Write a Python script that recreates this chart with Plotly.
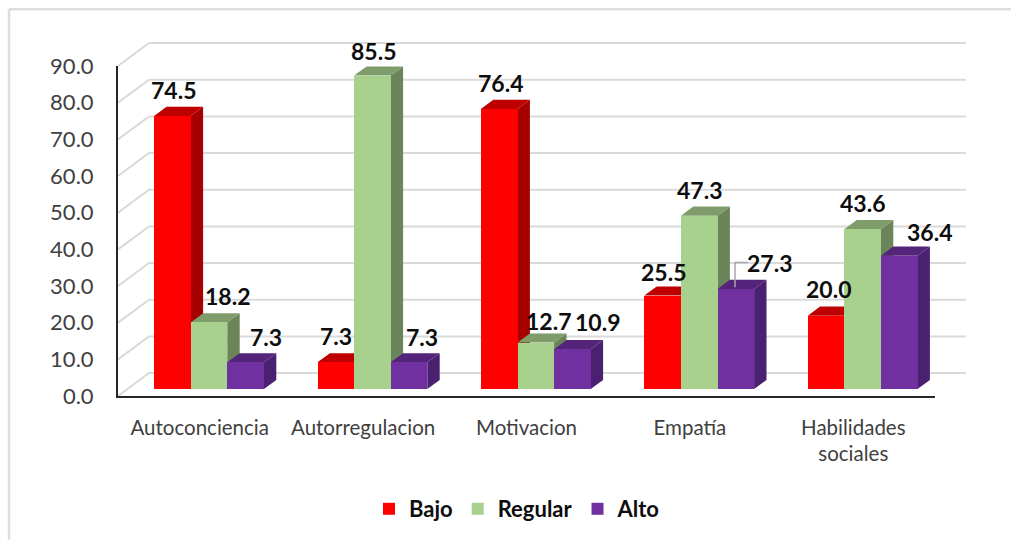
import plotly.graph_objects as go

categories = ["Autoconciencia", "Autorregulacion", "Motivacion", "Empatía", "Habilidades<br>sociales"]
bajo = [74.5, 7.3, 76.4, 25.5, 20.0]
regular = [18.2, 85.5, 12.7, 47.3, 43.6]
alto = [7.3, 7.3, 10.9, 27.3, 36.4]
y_ticks = [0, 10, 20, 30, 40, 50, 60, 70, 80, 90]

series = [
    ("Bajo", bajo, "#FF0000", "#A60000", "#BF0000"),
    ("Regular", regular, "#A9D18E", "#6B845A", "#7F9D6B"),
    ("Alto", alto, "#7030A0", "#4A2070", "#54247A"),
]

# label pixel offsets from each bar's front-top centre
label_dx = [[1, 0, 1, 1, 2], [18, 1, 13, 0, 0], [20, 13, 25, 34, 30]]
label_dy = [[26, 26, 26, 24, 27], [26, 25, 22, 26, 26], [25, 25, 27, 26, 24]]

W, H = 1011, 541
L, R, T, B = 118, 935, 66, 397
def px(x): return (x - L) / (R - L)
def py(y): return (B - y) / (B - T)

DX = 31 / ((R - L) / 5)      # depth in x units
DY = 23 / ((B - T) / 90)     # depth in value units
BW = 36.6 / ((R - L) / 5)    # bar width in x units
D0, D1 = 0.3, 0.7            # bar front and back depth

fig = go.Figure()

def bar_x(i, s):
    return i + (s - 1) * BW - BW / 2 + D0 * DX

# side and top faces sit under all the front faces
for s, (name, vals, col, side, top) in enumerate(series):
    sx, sy, tx, ty = [], [], [], []
    for i, v in enumerate(vals):
        x0 = bar_x(i, s)
        x1 = x0 + BW
        sx += [x1, x1 + (D1 - D0) * DX, x1 + (D1 - D0) * DX, x1, x1, None]
        sy += [D0 * DY, D1 * DY, v + D1 * DY, v + D0 * DY, D0 * DY, None]
        tx += [x0, x0 + (D1 - D0) * DX, x1 + (D1 - D0) * DX, x1, x0, None]
        ty += [v + D0 * DY, v + D1 * DY, v + D1 * DY, v + D0 * DY, v + D0 * DY, None]
    for fx, fy, c in ((sx, sy, side), (tx, ty, top)):
        fig.add_trace(go.Scatter(x=fx, y=fy, mode="lines", fill="toself", fillcolor=c,
                                 line=dict(color=c, width=0), cliponaxis=False,
                                 showlegend=False, hoverinfo="skip"))

# front faces on an overlaid subplot so that they cover the faces above
for s, (name, vals, col, side, top) in enumerate(series):
    fig.add_trace(go.Bar(name=name, x=[bar_x(i, s) + BW / 2 for i in range(len(vals))], y=vals,
                         base=D0 * DY, width=BW, marker=dict(color=col, line=dict(width=0)),
                         xaxis="x2", yaxis="y2"))

annotations = []
for s, (name, vals, *_rest) in enumerate(series):
    for i, v in enumerate(vals):
        annotations.append(dict(x=bar_x(i, s) + BW / 2, y=v + D0 * DY, xref="x", yref="y",
                                text=f"{v:.1f}", showarrow=False, xanchor="center", yanchor="middle",
                                xshift=label_dx[s][i], yshift=label_dy[s][i],
                                font=dict(family="Lato", size=23, color="#0D0D0D", weight=700)))

border = "#DEDEDE"
grid = dict(color="#DADADA", width=2)
shapes = []
# back wall gridlines and left wall diagonals, from the tick values
for t in y_ticks:
    fy = t / 90
    by = fy + DY / 90
    lx = DX / 5
    shapes.append(dict(type="path", xref="paper", yref="paper", layer="below",
                       path=f"M 0 {fy} L {lx} {by} L {1 + lx} {by}", line=grid))
shapes += [
    dict(type="line", xref="paper", yref="paper", x0=px(9), y0=py(541), x1=px(9), y1=py(9),
         line=dict(color=border, width=2.5)),
    dict(type="line", xref="paper", yref="paper", x0=px(9), y0=py(9), x1=px(1011), y1=py(9),
         line=dict(color=border, width=2.5)),
    dict(type="path", xref="paper", yref="paper",
         path=f"M {px(735)} {py(288)} L {px(735)} {py(263)} L {px(748)} {py(263)}",
         line=dict(color="#A6A6A6", width=1.5)),
]

fig.update_layout(
    width=W, height=H, autosize=False, barmode="overlay", bargap=0,
    margin=dict(l=L, r=W - R, t=T, b=H - B, pad=0),
    paper_bgcolor="white", plot_bgcolor="rgba(0,0,0,0)",
    font=dict(family="Lato", color="#404040"),
    annotations=annotations, shapes=shapes,
    xaxis=dict(range=[-0.5, 4.5], tickmode="array", tickvals=list(range(5)), ticktext=categories,
               showgrid=False, zeroline=False, showline=True, linecolor="#262626", linewidth=2,
               ticks="", ticklabelstandoff=12, tickfont=dict(size=20.5, color="#404040")),
    yaxis=dict(range=[0, 90], tickmode="array", tickvals=y_ticks, ticktext=[f"{t:.1f}" for t in y_ticks],
               showgrid=False, zeroline=False, showline=True, linecolor="#262626", linewidth=2,
               ticks="", ticklabelstandoff=18, tickfont=dict(size=22, color="#404040")),
    xaxis2=dict(range=[-0.5, 4.5], overlaying="x", visible=False),
    yaxis2=dict(range=[0, 90], overlaying="y", visible=False),
    legend=dict(orientation="h", x=px(369), y=py(509), xanchor="left", yanchor="middle",
                font=dict(family="Lato", size=22, color="#0D0D0D", weight=700),
                bgcolor="rgba(0,0,0,0)", traceorder="normal"),
)

fig.write_html("out.html", post_script="document.body.style.margin='0';",
               config={"displayModeBar": False})
